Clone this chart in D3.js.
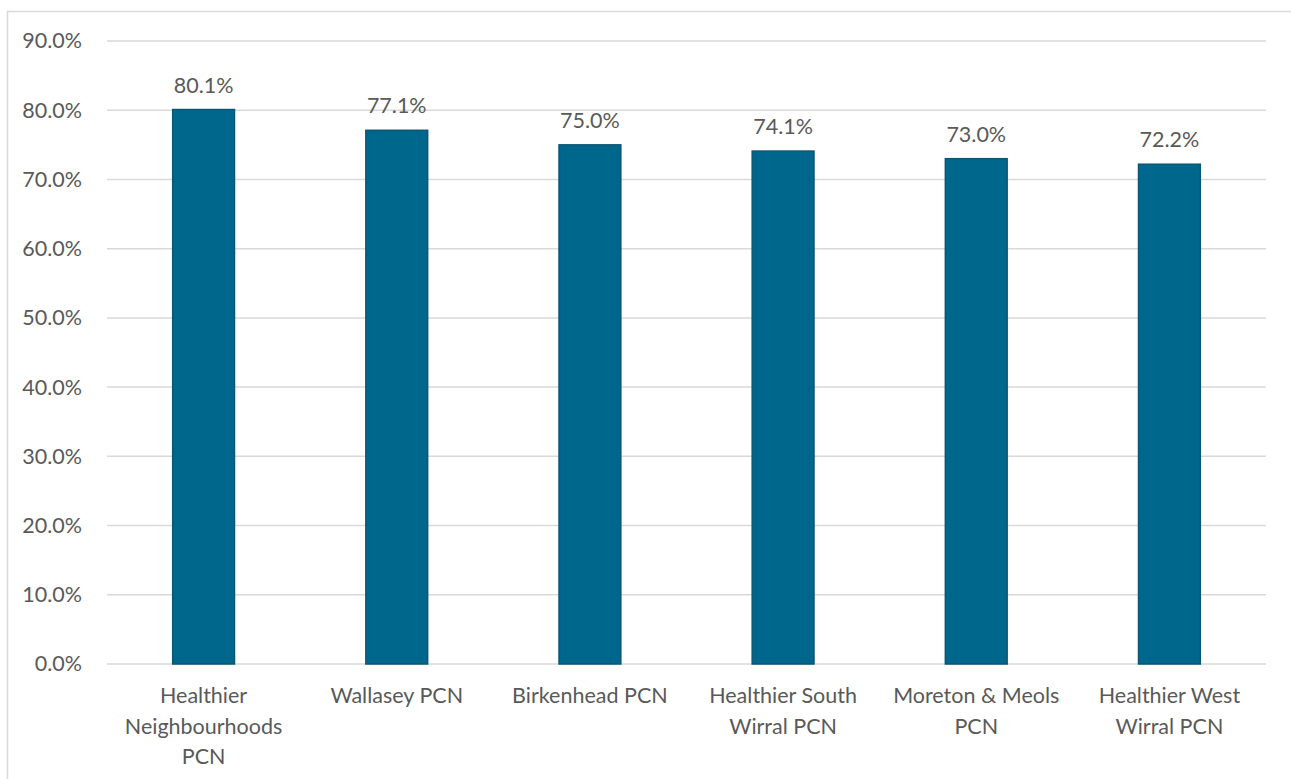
<!DOCTYPE html>
<html><head><meta charset="utf-8">
<script src="https://cdn.jsdelivr.net/npm/d3@7"></script>
<style>
html,body{margin:0;padding:0;background:#fff;overflow:hidden}
text{font-family:Lato,"Open Sans",sans-serif}
</style></head>
<body><svg id="c" width="1291" height="779"></svg>
<script>
const categories = [["Healthier","Neighbourhoods","PCN"],["Wallasey PCN"],["Birkenhead PCN"],["Healthier South","Wirral PCN"],["Moreton & Meols","PCN"],["Healthier West","Wirral PCN"]];
const values = [80.1, 77.1, 75.0, 74.1, 73.0, 72.2];
const yTicks = [0,10,20,30,40,50,60,70,80,90];

(function(){
const svg = d3.select("#c");
const FS = "21.5px";
svg.append("rect").attr("x",7.5).attr("y",11.5).attr("width",1400).attr("height",900)
  .attr("fill","none").attr("stroke","#d9d9d9").attr("stroke-width",1.5);

const pl=107, pr=1266, pt=41, pb=664;
const x = d3.scaleBand().domain(d3.range(values.length)).range([pl,pr]).paddingInner(0.68).paddingOuter(0.34);
const y = d3.scaleLinear().domain([0,90]).range([pb,pt]);

const grid = svg.append("g");
grid.selectAll("line").data(yTicks).join("line")
  .attr("x1",pl).attr("x2",pr).attr("y1",d=>y(d)).attr("y2",d=>y(d))
  .attr("stroke","#d9d9d9").attr("stroke-width",1.5);

const yAxis = d3.axisLeft(y).tickValues(yTicks).tickFormat(d=>d.toFixed(1)+"%").tickSize(0).tickPadding(0);
const ga = svg.append("g").attr("transform",`translate(82,0)`).call(yAxis);
ga.select(".domain").remove();
ga.selectAll("text").attr("fill","#595959").style("font-size",FS).style("font-family","Lato,'Open Sans',sans-serif");

svg.append("g").selectAll("rect").data(values).join("rect")
  .attr("x",(d,i)=>x(i)).attr("width",x.bandwidth())
  .attr("y",d=>y(d)).attr("height",d=>y(0)-y(d))
  .attr("fill","#00678c").attr("stroke","#0c5675").attr("stroke-width",1.5);

svg.append("g").selectAll("text").data(values).join("text")
  .attr("x",(d,i)=>x(i)+x.bandwidth()/2).attr("y",d=>y(d)-17)
  .attr("text-anchor","middle").attr("fill","#595959").style("font-size",FS)
  .text(d=>d.toFixed(1)+"%");

const gl = svg.append("g");
categories.forEach((lines,i)=>{
  const t = gl.append("text").attr("text-anchor","middle").attr("fill","#595959").style("font-size",FS);
  lines.forEach((l,j)=>{
    t.append("tspan").attr("x",x(i)+x.bandwidth()/2).attr("y",703+j*30.5).text(l);
  });
});
})();
</script></body></html>
